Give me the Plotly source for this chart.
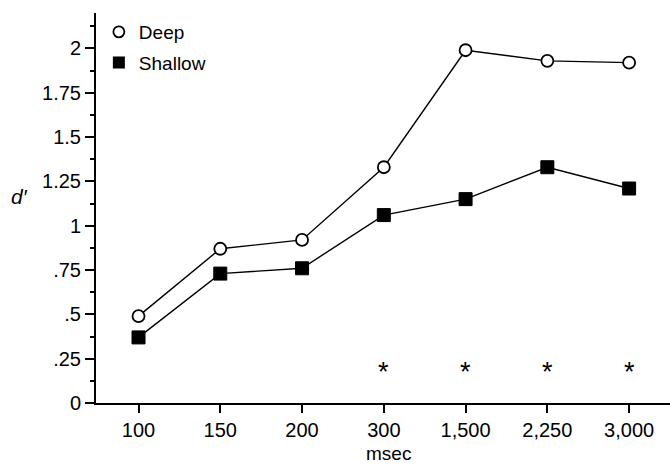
import plotly.graph_objects as go

categories = ["100", "150", "200", "300", "1,500", "2,250", "3,000"]
deep = [0.49, 0.87, 0.92, 1.33, 1.99, 1.93, 1.92]
shallow = [0.37, 0.73, 0.76, 1.06, 1.15, 1.33, 1.21]
sig_categories = ["300", "1,500", "2,250", "3,000"]
sig_level = [0.2, 0.2, 0.2, 0.2]
ytick_vals = [0, 0.25, 0.5, 0.75, 1, 1.25, 1.5, 1.75, 2]
ytick_text = ["0", ".25", ".5", ".75", "1", "1.25", "1.5", "1.75", "2"]

FONT = "Liberation Sans, Arial, sans-serif"
xi = list(range(len(categories)))
sig_x = [categories.index(c) for c in sig_categories]

fig = go.Figure()
fig.add_trace(go.Scatter(
    x=xi, y=deep, mode="lines+markers", showlegend=False,
    line=dict(color="black", width=1.4),
    marker=dict(symbol="circle", size=12, color="white",
                line=dict(color="black", width=1.8)),
))
fig.add_trace(go.Scatter(
    x=xi, y=shallow, mode="lines+markers", showlegend=False,
    line=dict(color="black", width=1.4),
    marker=dict(symbol="square", size=13, color="black",
                line=dict(color="black", width=1)),
))
# legend entries (markers only)
fig.add_trace(go.Scatter(
    x=[None], y=[None], mode="markers", name="Deep", legendgroup="a",
    marker=dict(symbol="circle", size=11, color="white",
                line=dict(color="black", width=1.8)),
))
fig.add_trace(go.Scatter(
    x=[None], y=[None], mode="markers", name="Shallow", legendgroup="b",
    marker=dict(symbol="square", size=12, color="black"),
))

fig.update_layout(
    width=670, height=465,
    margin=dict(l=96, r=0, t=13, b=62),
    paper_bgcolor="white", plot_bgcolor="white",
    font=dict(family=FONT, size=20, color="black"),
    legend=dict(x=0.005, y=1.0, xanchor="left", yanchor="top",
                bgcolor="rgba(0,0,0,0)", font=dict(size=19),
                itemwidth=30, tracegroupgap=3),
    xaxis=dict(
        range=[-0.52, 6.5], tickvals=xi, ticktext=categories,
        showline=True, linecolor="black", linewidth=2,
        ticks="outside", ticklen=8, tickwidth=2, tickcolor="black",
        showgrid=False, zeroline=False,
    ),
    yaxis=dict(
        range=[0, 2.2], tickvals=ytick_vals, ticktext=ytick_text,
        showline=True, linecolor="black", linewidth=2,
        ticks="outside", ticklen=9, tickwidth=2, tickcolor="black",
        minor=dict(tickvals=[0.125 + 0.25 * k for k in range(9)],
                   ticks="outside", ticklen=4, tickwidth=1.5, tickcolor="black"),
        showgrid=False, zeroline=False,
    ),
    annotations=[
        dict(text="<i>d′</i>", xref="paper", yref="paper",
             x=(19 - 96) / 574, y=(403 - 196) / 390, xanchor="center", yanchor="middle",
             showarrow=False, font=dict(size=21)),
        dict(text="msec", xref="paper", yref="paper",
             x=(388 - 96) / 574, y=-(453 - 403) / 390, xanchor="center", yanchor="middle",
             showarrow=False, font=dict(size=19)),
    ],
)

for cx, cy in zip(sig_x, sig_level):
    fig.add_annotation(x=cx, y=cy, xref="x", yref="y", text="*", showarrow=False,
                       xanchor="center", yanchor="middle", yshift=-4,
                       font=dict(family=FONT, size=27, color="black"))

fig.write_html("out.html")
